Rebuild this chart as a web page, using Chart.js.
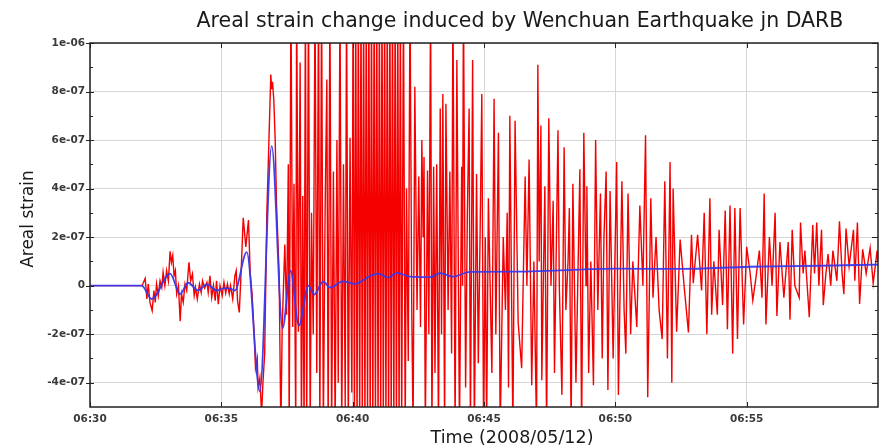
<!DOCTYPE html>
<html>
<head>
<meta charset="utf-8">
<title>Areal strain - Wenchuan Earthquake, DARB</title>
<script src="https://cdn.jsdelivr.net/npm/chart.js@4.4.1/dist/chart.umd.min.js"></script>
<style>
  html, body { margin: 0; padding: 0; background: #fff; }
</style>
</head>
<body>
<canvas id="strainChart" width="880" height="447"></canvas>
<script>
// x axis: seconds after 06:30:00 (2008/05/12)
const xTickValues = [0, 300, 600, 900, 1200, 1500];
const xTickLabels = ["06:30", "06:35", "06:40", "06:45", "06:50", "06:55"];
// y axis: areal strain in units of 1e-7
const yTickValues = [-4, -2, 0, 2, 4, 6, 8, 10];
const yTickLabels = ["-4e-07", "-2e-07", "0", "2e-07", "4e-07", "6e-07", "8e-07", "1e-06"];
const yMinorValues = [-3, -1, 1, 3, 5, 7, 9];

// recorded strain [seconds, strain e-7] - P/S arrivals
const redOnset = [
  [0, 0], [119, 0], [126, 0.3], [130, -0.55], [133, 0.07], [137, -0.69], [142, -1.03], [146, -0.2],
  [149, -0.69], [152, 0.07], [156, -0.41], [160, 0.2], [164, -0.07], [167, 0.55], [171, 0],
  [175, 0.62], [179, 0.2], [183, 1.42], [186, 0.96], [189, 1.24], [192, 0.41], [195, 0.62],
  [198, -0.34], [202, 0], [206, -1.47], [209, -0.34], [213, -0.69], [217, 0.07], [221, -0.2],
  [226, 0.96], [230, 0.2], [234, 0.48], [238, -0.41], [241, -0.07], [245, -0.55], [250, 0.07],
  [254, -0.28], [257, 0.2], [262, -0.1], [267, 0.14], [270, -0.28], [274, 0.41], [278, -0.48],
  [282, 0], [286, -0.62], [289, 0.2], [293, -0.76], [297, 0], [302, -0.41], [306, 0.14],
  [310, -0.3], [314, 0.07], [318, -0.34], [321, 0], [326, -0.55], [331, 0.41], [334, 0.62],
  [337, -0.62], [341, -1.1], [345, 0.48], [350, 2.8], [356, 1.6], [362, 2.7], [366, 0.5],
  [370, -0.3], [375, -2.0], [378, -3.4], [382, -3.0], [384, -4.2], [388, -3.8], [392, -5.3],
  [395, -4.0], [399, -2.8], [404, 3.0], [410, 6.8], [413, 8.7], [415, 8.1], [417, 8.4],
  [420, 7.6], [423, 6.0], [426, 3.4], [432, 0.5]
];

// surface waves, clipped by the axis range
const redMain = [
  [436, -6], [439, -1.7], [445, 1.7], [449, -1.2], [453, 5.0], [455, -6], [459, 12], [463, -1.7],
  [466, 4.2], [470, -6], [472, 12], [476, -1.9], [480, 9.2], [483, -6], [486, 3.7], [489, -6],
  [492, 12], [495, -6], [499, 12], [503, -6], [506, 3], [510, -2], [514, 12], [518, -3.6],
  [522, 12], [525, -6], [529, 12], [533, -6], [537, 3], [541, 8.5], [544, -6], [548, 12],
  [552, -6], [556, 4.7], [560, -6], [564, 6], [567, -4], [571, 12], [575, -6], [579, 5],
  [583, -5], [586, 12], [590, -6], [594, 6.1], [598, -4.4], [601, 12], [604, -6], [607, 12],
  [610, -6], [613, 12], [616, -6], [619, 12], [622, -6], [625, 12], [628, -6], [631, 12],
  [634, -6], [637, 12], [640, -6], [643, 12], [646, -6], [649, 12], [652, -6], [655, 12],
  [658, -6], [661, 12], [664, -6], [667, 12], [670, -6], [673, 12], [676, -6], [679, 12],
  [682, -6], [685, 12], [688, -6], [691, 12], [694, -6], [697, 12], [700, -6], [703, 12],
  [706, -6], [709, 12], [712, -6], [716, 12], [720, -6], [723, 4], [727, -3.1], [731, 12],
  [735, -1], [738, -6], [742, 8.2], [747, -1.0], [751, 4.5], [755, -1.7], [758, 6.0], [761, 2],
  [763, 5.3], [766, -6], [771, 4.75], [774, -2], [778, 12], [781, -6], [785, 4.9], [788, -3.6],
  [792, 5.0], [796, -6], [800, 7.3], [803, -2], [806, 7.9], [810, -6], [813, 7.5], [818, -1],
  [822, 4.7], [826, -2.8], [829, 12], [834, -6], [838, 9.3], [844, -6], [849, 4.9], [851, 0],
  [853, 12], [858, -4.2], [862, 3], [866, 7.3], [869, -6], [874, 9.3], [878, -6], [883, 4.6],
  [887, -3.2], [891, 2], [895, 7.9], [899, -6], [903, 2], [906, -6], [910, 3.6], [918, -3.6],
  [923, 7.7], [927, -2], [933, 6.3], [937, -6]
];

// coda
const redCoda = [
  [944, 2.0], [949, -1], [953, 3], [956, -4.2], [959, 7.0], [966, -6], [971, 6.8], [978, -1.5],
  [986, -3.4], [994, 4.5], [998, 0], [1003, 5.2], [1009, -4.1], [1014, 1], [1020, -6], [1023, 9.1],
  [1026, 1], [1030, 6.6], [1032, -3.9], [1039, 4.1], [1043, -6], [1048, 6.9], [1053, 0], [1058, 3.5],
  [1061, -3.6], [1069, 6.4], [1072, 0], [1078, -4.5], [1083, 5.7], [1087, -1], [1092, 1], [1095, 3.2],
  [1099, -6], [1103, 4.2], [1110, -4.0], [1119, 4.8], [1123, -6], [1128, 6.3], [1133, 0], [1135, 4.1],
  [1139, -3.6], [1144, 1], [1150, -4.1], [1155, 6.0], [1160, -1], [1166, 3.8], [1170, -3.0], [1174, 2],
  [1179, 4.7], [1183, -4.3], [1188, 3.9], [1195, -3.0], [1203, 5.1], [1207, -4.5], [1215, 4.3],
  [1220, -1], [1224, -2.8], [1229, 3.8], [1235, -2.0], [1240, 1], [1249, -1.7], [1256, 3.3],
  [1263, 0], [1269, 6.2], [1274, -4.6], [1281, 3.6], [1286, -0.5], [1293, 2], [1300, -1],
  [1307, -2.2], [1313, 4.3], [1319, -3.0], [1325, 5.1], [1329, -4.0], [1332, 4.0], [1340, -1.9],
  [1348, 1.9], [1357, 0], [1367, -1.93], [1374, 2.1], [1378, 0.1], [1388, 2.1], [1397, -0.2],
  [1403, 3.0], [1409, -2.0], [1416, 3.6], [1420, -1.2], [1425, 1], [1433, -1.2], [1437, 2.3],
  [1445, -0.8], [1451, 3.1], [1456, -1.8], [1462, 3.3], [1468, -2.8], [1473, 3.2], [1479, -2.2],
  [1485, 3.2], [1493, -1.6], [1500, 1.6], [1508, 0.5], [1514, -0.6], [1521, 0.3], [1529, 1.45],
  [1535, -0.5], [1540, 3.8], [1544, -1.6], [1552, 2.0], [1558, 0], [1565, 3.0], [1569, -1.25],
  [1576, 1.8], [1585, -0.5], [1595, 1.8], [1599, -1.4], [1604, 2.3], [1610, 0], [1620, -0.5],
  [1623, 2.6], [1629, 0.5], [1633, 1.45], [1643, -1.3], [1651, 2.5], [1655, 0.5], [1660, 2.6],
  [1665, 0], [1671, 2.3], [1675, -0.8], [1681, 0.5], [1686, 1.3], [1692, 0], [1697, 1.45],
  [1706, 0.2], [1712, 2.65], [1718, 0.5], [1722, -0.35], [1727, 2.35], [1734, 0.8], [1744, 2.3],
  [1747, 0.2], [1753, 2.6], [1758, -0.75], [1765, 1.5], [1773, 0.5], [1782, 1.55], [1789, 0.1],
  [1798, 1.45], [1800, 1.0]
];

// low-pass trend
const blueTrend = [
  [0, 0], [118, 0], [141, -0.55], [183, 0.5], [206, -0.35], [224, 0.12], [247, -0.2], [267, 0.05],
  [290, -0.2], [308, -0.1], [320, -0.12], [331, -0.2], [358, 1.38], [388, -4.35], [415, 5.75],
  [440, -1.75], [458, 0.62], [477, -1.65], [499, 0], [512, -0.37], [533, 0.18], [548, -0.08],
  [578, 0.18], [605, 0.07], [640, 0.4], [658, 0.5], [681, 0.33], [701, 0.53], [731, 0.37],
  [777, 0.35], [800, 0.52], [829, 0.37], [868, 0.57], [982, 0.58], [1074, 0.63], [1206, 0.7],
  [1348, 0.69], [1508, 0.78], [1668, 0.82], [1800, 0.87]
];

const toPoints = (rows) => rows.map(([t, v]) => ({ x: t, y: v }));
const redPoints = toPoints(redOnset.concat(redMain, redCoda));
const bluePoints = toPoints(blueTrend);

// frame, inward tick marks and the three text labels
const frameAndText = {
  id: "frameAndText",
  beforeDraw(chart) {
    const ctx = chart.ctx;
    ctx.save();
    ctx.fillStyle = "#fff";
    ctx.fillRect(0, 0, chart.width, chart.height);
    ctx.restore();
  },
  afterDraw(chart) {
    const { ctx, chartArea: a, scales } = chart;
    const x = scales.x, y = scales.y;
    ctx.save();
    ctx.strokeStyle = "#222";
    ctx.lineWidth = 1;
    ctx.beginPath();
    xTickValues.forEach((v) => {
      const px = Math.round(x.getPixelForValue(v)) + 0.5;
      ctx.moveTo(px, a.top); ctx.lineTo(px, a.top + 5);
      ctx.moveTo(px, a.bottom); ctx.lineTo(px, a.bottom - 5);
    });
    yTickValues.forEach((v) => {
      const py = Math.round(y.getPixelForValue(v)) + 0.5;
      ctx.moveTo(a.left - 4, py); ctx.lineTo(a.left + 4, py);
      ctx.moveTo(a.right - 6, py); ctx.lineTo(a.right, py);
    });
    yMinorValues.forEach((v) => {
      const py = Math.round(y.getPixelForValue(v)) + 0.5;
      ctx.moveTo(a.left, py); ctx.lineTo(a.left + 3, py);
      ctx.moveTo(a.right - 3, py); ctx.lineTo(a.right, py);
    });
    ctx.stroke();

    ctx.lineWidth = 1.5;
    ctx.strokeRect(a.left, a.top, a.right - a.left, a.bottom - a.top);

    ctx.fillStyle = "#1a1a1a";
    ctx.textAlign = "center";
    ctx.textBaseline = "alphabetic";
    ctx.font = '20.5px "DejaVu Sans"';
    ctx.fillText("Areal strain change induced by Wenchuan Earthquake jn DARB", 520, 27);
    ctx.font = '17.5px "DejaVu Sans"';
    ctx.fillText("Time (2008/05/12)", 512, 443);
    ctx.translate(33, 219);
    ctx.rotate(-Math.PI / 2);
    ctx.font = '17px "DejaVu Sans"';
    ctx.fillText("Areal strain", 0, 0);
    ctx.restore();
  }
};

const tickFont = { family: "DejaVu Sans", size: 10.5, weight: "bold" };

new Chart(document.getElementById("strainChart"), {
  type: "line",
  data: {
    datasets: [
      {
        label: "trend",
        data: bluePoints,
        borderColor: "rgba(55, 55, 235, 0.95)",
        borderWidth: 1.8,
        cubicInterpolationMode: "monotone",
        pointRadius: 0,
        fill: false
      },
      {
        label: "areal strain",
        data: redPoints,
        borderColor: "#f40000",
        borderWidth: 1.4,
        tension: 0,
        pointRadius: 0,
        fill: false
      }
    ]
  },
  options: {
    responsive: false,
    animation: false,
    layout: { padding: { top: 43, right: 2, left: 0, bottom: 0 } },
    plugins: {
      legend: { display: false },
      tooltip: { enabled: false },
      title: { display: false }
    },
    scales: {
      x: {
        type: "linear",
        min: 0,
        max: 1800,
        afterBuildTicks: (scale) => { scale.ticks = xTickValues.map((v) => ({ value: v })); },
        afterFit: (scale) => { scale.height = 40; },
        ticks: {
          callback: (v, i) => xTickLabels[i],
          autoSkip: false,
          maxRotation: 0,
          padding: 6,
          color: "#3a3a3a",
          font: tickFont
        },
        grid: { color: "#d6d6d6", drawTicks: false },
        border: { display: false }
      },
      y: {
        type: "linear",
        min: -5,
        max: 10,
        afterBuildTicks: (scale) => { scale.ticks = yTickValues.map((v) => ({ value: v })); },
        afterFit: (scale) => { scale.width = 90; },
        ticks: {
          callback: (v, i) => yTickLabels[i],
          padding: 5,
          color: "#3a3a3a",
          font: tickFont
        },
        grid: { color: "#d6d6d6", drawTicks: false },
        border: { display: false }
      }
    }
  },
  plugins: [frameAndText]
});
</script>
</body>
</html>
